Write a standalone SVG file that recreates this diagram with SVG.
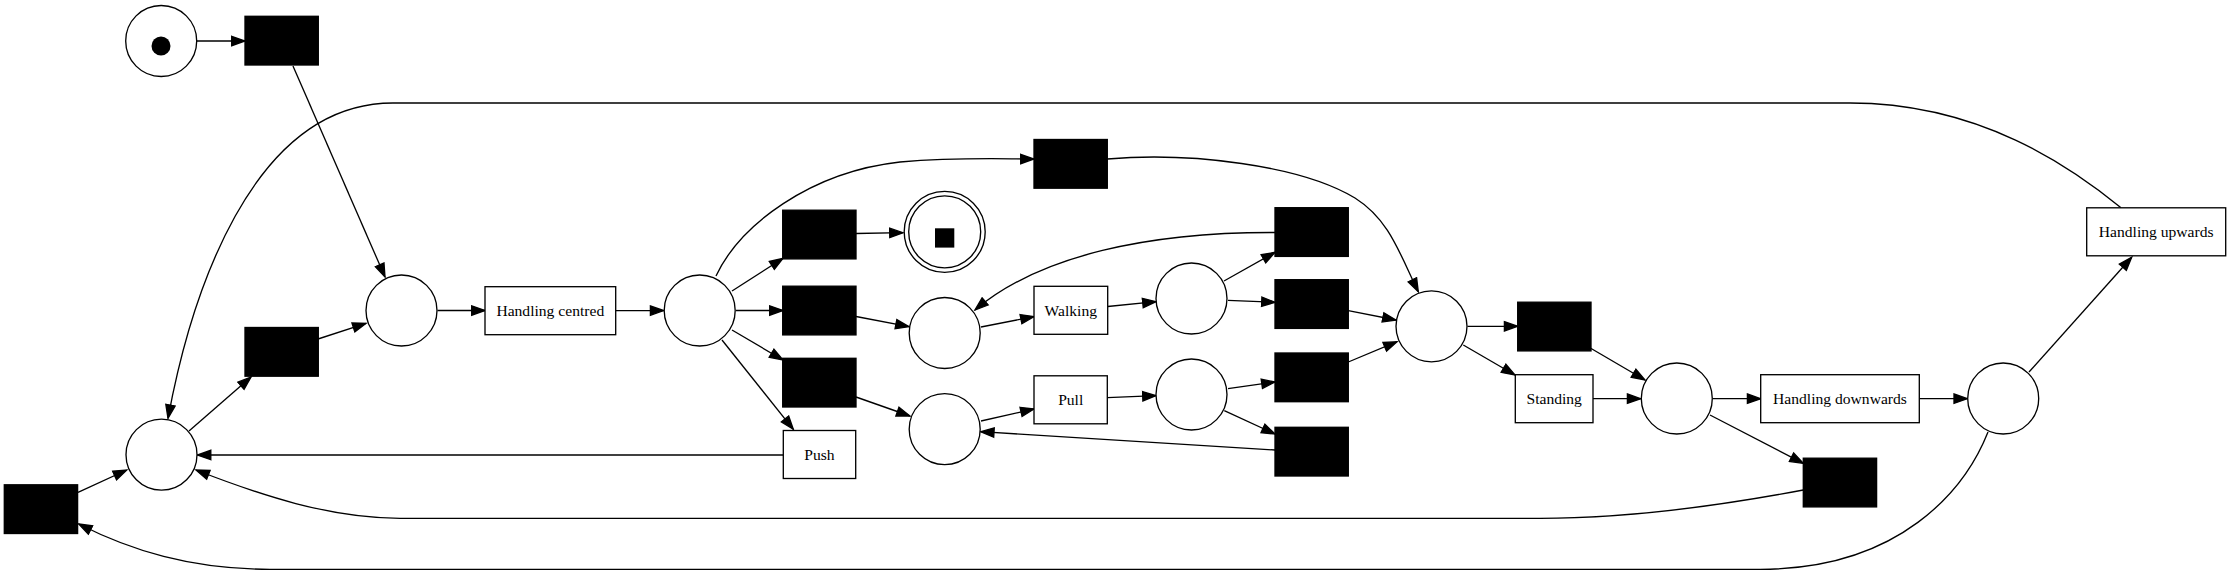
<svg xmlns="http://www.w3.org/2000/svg" width="2231" height="575" viewBox="0 0 2231 575">
<style>
.place{fill:#fff;stroke:#000;stroke-width:1.33}
.silent{fill:#000;stroke:#000;stroke-width:1.33}
.trans{fill:#fff;stroke:#000;stroke-width:1.33}
.label{font-family:"Liberation Serif","Times New Roman",serif;font-size:15.6px;text-anchor:middle;fill:#000}
.edge{fill:none;stroke:#000;stroke-width:1.33;marker-end:url(#arrow)}
</style>
<defs>
<marker id="arrow" markerUnits="userSpaceOnUse" viewBox="0 0 16 12" markerWidth="16" markerHeight="12" refX="14.3" refY="6" orient="auto">
<polygon points="1,1.3 14.3,6 1,10.7" fill="#000" stroke="#000" stroke-width="1.33"/>
</marker>
</defs>
<rect width="2231" height="575" fill="#fff"/>

<g id="connectors">
<path class="edge" d="M197,41 L245,41"/>
<path class="edge" d="M293,66 L385,277"/>
<path class="edge" d="M189,431 L251,377"/>
<path class="edge" d="M318,339 L366,323.3"/>
<path class="edge" d="M437.5,310.5 L485,310.5"/>
<path class="edge" d="M615.7,310.6 L663.7,310.6"/>
<path class="edge" d="M716,276 C740,225 810,172 900,162 C960,157 1000,159 1034,159"/>
<path class="edge" d="M732,291 L783,258.3"/>
<path class="edge" d="M736,310.5 L783,310.5"/>
<path class="edge" d="M732,330 L783,360"/>
<path class="edge" d="M722,340 L793.3,429.3"/>
<path class="edge" d="M856,233.5 L903,232.7"/>
<path class="edge" d="M856,316.5 L909,326.7"/>
<path class="edge" d="M856,397 L910,416"/>
<path class="edge" d="M783.3,455 L197.5,455"/>
<path class="edge" d="M981,327 L1034,316.6"/>
<path class="edge" d="M1107.7,306.5 L1156,301.7"/>
<path class="edge" d="M1224,281 L1275,252.3"/>
<path class="edge" d="M1228,300.3 L1275,302.3"/>
<path class="edge" d="M1275,232.5 C1150,232 1040,255 975,310"/>
<path class="edge" d="M1348.3,310.6 L1396,320"/>
<path class="edge" d="M1348.3,362 L1397,341.7"/>
<path class="edge" d="M981,421 L1034,409"/>
<path class="edge" d="M1107.3,397.6 L1156,395.7"/>
<path class="edge" d="M1228,388.6 L1275,382"/>
<path class="edge" d="M1224.3,410.6 L1275,434"/>
<path class="edge" d="M1275,450 L980.7,431.7"/>
<path class="edge" d="M1107.3,159 C1190,152 1300,165 1355,198 C1390,220 1400,255 1418.3,291.7"/>
<path class="edge" d="M1467.5,326.3 L1517.7,326.3"/>
<path class="edge" d="M1463.3,345 L1515,375"/>
<path class="edge" d="M1590.7,348.3 L1645,380"/>
<path class="edge" d="M1593,398.7 L1640.7,398.7"/>
<path class="edge" d="M1713,398.7 L1760.7,398.7"/>
<path class="edge" d="M1710,415 L1803.3,463.3"/>
<path class="edge" d="M1919.3,398.7 L1967.3,398.7"/>
<path class="edge" d="M2029,372 L2131.7,257.3"/>
<path class="edge" d="M1803.3,490 C1740,502 1640,518.3 1540,518.3 L400,518.3 C330,518.3 260,495 196,470"/>
<path class="edge" d="M1988,432 C1965,490 1900,569.3 1760,569.3 L270,569.3 C190,569.3 130,550 78.7,524"/>
<path class="edge" d="M2121,207.7 C2071,167 1980,103 1850,103 L393,103 C250,103 190,300 168,418.3"/>
<path class="edge" d="M78,492.3 L126.7,470"/>
</g>

<g id="p_start"><circle class="place" cx="161.2" cy="41" r="35.5"/><circle cx="161" cy="46" r="9.5" fill="#000"/></g>
<g id="p0"><circle class="place" cx="161.5" cy="454.7" r="35.5"/></g>
<g id="p1"><circle class="place" cx="401.5" cy="310.5" r="35.5"/></g>
<g id="p2"><circle class="place" cx="699.7" cy="310.5" r="35.5"/></g>
<g id="p_final"><circle class="place" cx="944.7" cy="231.8" r="40.5"/><circle class="place" cx="944.7" cy="231.8" r="36"/><rect x="935" y="228.3" width="19.3" height="19.3" fill="#000"/></g>
<g id="p_walk"><circle class="place" cx="944.7" cy="333" r="35.5"/></g>
<g id="p_pull"><circle class="place" cx="944.7" cy="429.2" r="35.5"/></g>
<g id="p_w2"><circle class="place" cx="1191.5" cy="298.5" r="35.5"/></g>
<g id="p_p2"><circle class="place" cx="1191.5" cy="394.5" r="35.5"/></g>
<g id="p_mid"><circle class="place" cx="1431.5" cy="326.3" r="35.5"/></g>
<g id="p_s"><circle class="place" cx="1676.8" cy="398.5" r="35.5"/></g>
<g id="p_d"><circle class="place" cx="2003.2" cy="398.5" r="35.5"/></g>

<g id="t_start"><rect class="silent" x="245" y="16.3" width="73.3" height="48.7"/></g>
<g id="t_midleft"><rect class="silent" x="245" y="327.5" width="73.3" height="48.7"/></g>
<g id="t_bl"><rect class="silent" x="4.3" y="484.8" width="73.3" height="48.7"/></g>
<g id="t_final"><rect class="silent" x="782.7" y="210.2" width="73.3" height="48.7"/></g>
<g id="t_walk"><rect class="silent" x="782.7" y="286.2" width="73.3" height="48.7"/></g>
<g id="t_pull"><rect class="silent" x="782.7" y="358.3" width="73.3" height="48.7"/></g>
<g id="t_top"><rect class="silent" x="1034" y="139.5" width="73.3" height="48.7"/></g>
<g id="t_w_back"><rect class="silent" x="1275" y="207.7" width="73.3" height="48.7"/></g>
<g id="t_w_fwd"><rect class="silent" x="1275" y="279.7" width="73.3" height="48.7"/></g>
<g id="t_p_fwd"><rect class="silent" x="1275" y="353" width="73.3" height="48.7"/></g>
<g id="t_p_back"><rect class="silent" x="1275" y="427.3" width="73.3" height="48.7"/></g>
<g id="t_mid"><rect class="silent" x="1517.7" y="302.2" width="73.3" height="48.7"/></g>
<g id="t_d"><rect class="silent" x="1803.3" y="458.2" width="73.3" height="48.7"/></g>

<g id="t_handling_centred"><rect class="trans" x="485" y="286.7" width="130.7" height="48"/><text class="label" x="550.3" y="316.2">Handling centred</text></g>
<g id="t_push"><rect class="trans" x="783.3" y="430.5" width="72.4" height="48"/><text class="label" x="819.5" y="460">Push</text></g>
<g id="t_walking"><rect class="trans" x="1034" y="286.3" width="73.7" height="48"/><text class="label" x="1070.8" y="315.8">Walking</text></g>
<g id="t_pull_l"><rect class="trans" x="1034" y="375.8" width="73.3" height="48"/><text class="label" x="1070.7" y="405.3">Pull</text></g>
<g id="t_standing"><rect class="trans" x="1515.3" y="374.7" width="77.7" height="48"/><text class="label" x="1554.2" y="404.2">Standing</text></g>
<g id="t_handling_downwards"><rect class="trans" x="1760.7" y="374.7" width="158.6" height="48"/><text class="label" x="1840" y="404.2">Handling downwards</text></g>
<g id="t_handling_upwards"><rect class="trans" x="2086.7" y="207.8" width="139" height="48"/><text class="label" x="2156.2" y="237.3">Handling upwards</text></g>
</svg>
